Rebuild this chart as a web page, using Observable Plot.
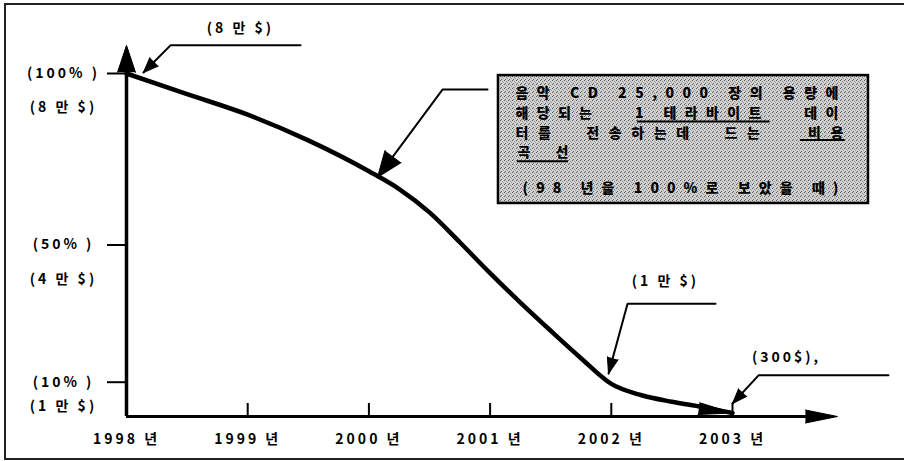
<!DOCTYPE html>
<html><head><meta charset="utf-8">
<script src="https://cdn.jsdelivr.net/npm/d3@7"></script>
<script src="https://cdn.jsdelivr.net/npm/@observablehq/plot@0.6"></script>
<style>
html,body{margin:0;padding:0;background:#fff;}
#wrap{position:relative;width:906px;height:461px;overflow:hidden;}
#frame{position:absolute;left:4px;top:3px;width:898px;height:453px;border-top:2px solid #222;border-left:2px solid #222;border-bottom:2px solid #222;pointer-events:none;}
</style></head><body>
<div id="wrap"><div id="frame"></div></div>
<script>
// ---- data ----
const years   = [1998, 1998.5, 1999, 1999.5, 2000, 2000.25, 2000.5, 2000.75, 2001, 2001.25, 2001.5, 2001.75, 2002, 2002.25, 2002.5, 2002.75, 2003];
const costPct = [100, 94, 88, 80.5, 71.5, 66.3, 59.5, 50.8, 41.8, 33.2, 25, 17, 9.5, 6.2, 4.3, 2.8, 1];
const yearTicks  = [1998, 1999, 2000, 2001, 2002, 2003];
const yearLabels = ["1998 년", "1999 년", "2000 년", "2001 년", "2002 년", "2003 년"];
const pctTicks     = [100, 50, 10];
const pctLabels    = ["(100% )", "(50% )", "(10% )"];
const dollarLabels = ["(8 만 $)", "(4 만 $)", "(1 만 $)"];
const calloutLabels = ["(8 만 $)", "(1 만 $)", "(300$),"];
const boxLines = ["음악 CD 25,000 장의 용량에", "해당되는   1 테라바이트   데이", "터를  전송하는데  드는   비용", "곡선", "(98 년을 100%로 보았을 때)"];

// ---- layout (not data) ----
const W = 906, H = 461;
const M = {left: 126, right: 174, top: 73, bottom: 45};
const kx = (W - M.left - M.right) / (yearTicks[yearTicks.length - 1] - yearTicks[0]);
const ky = (H - M.top - M.bottom) / 100;
const font = "'Noto Sans CJK KR', 'Noto Sans', sans-serif";

const curve = years.map((x, i) => ({x, y: costPct[i]}));
const subDy = [34, 35, 24];

// annotation geometry in data units
const leaders = [
  {id: 0, pts: [[1999.436, 108.2], [1998.363, 108.2], [1998.14, 100.3]], len: 15, r: 6},
  {id: 1, pts: [[2000.979, 95.3], [2000.607, 95.3], [2000.071, 69.7]], len: 26, r: 10},
  {id: 2, pts: [[2002.86, 32.9], [2002.134, 32.9], [2001.977, 12.5]], len: 16, r: 5.5},
  {id: 3, pts: [[2004.287, 12.0], [2003.215, 12.0], [2003.0, 3.8]], len: 15, r: 5.5}
];
const calloutPos = [[1998.94, 113.1], [2002.447, 39.4], [2003.446, 17.2]];
const boxPos = [[2001.209, 94.2], [2001.209, 88.3], [2001.209, 82.5], [2001.226, 77.0], [2001.267, 66.5]];
const boxLen = [323, 323, 328, 51, 316];
const underlines = [
  {x1: 2002.216, x2: 2003.31, y: 86.0},
  {x1: 2003.56, x2: 2003.93, y: 80.6},
  {x1: 2001.226, x2: 2001.647, y: 74.4}
];

function rot(a, b) { // clockwise degrees from "up" in screen space
  const dx = (b[0] - a[0]) * kx, dy = -(b[1] - a[1]) * ky;
  return Math.atan2(dx, -dy) * 180 / Math.PI;
}
function head(tip, rotate, length, r) {
  return Plot.vector([tip], {x: d => d[0], y: d => d[1], rotate, length, r, shape: "spike", anchor: "end",
    fill: "black", fillOpacity: 1, stroke: "black", strokeWidth: 1});
}

const leaderPts = leaders.flatMap(l => l.pts.map(p => ({id: l.id, x: p[0], y: p[1]})));
const textOpts = {fontFamily: font, fontWeight: "bold", fontSize: 14, fill: "black"};

const marks = [
  // box
  Plot.rect([0], {x1: 2001.069, x2: 2004.122, y1: 62.1, y2: 99.4, fill: "url(#stip)", stroke: "black", strokeWidth: 2.5}),
  Plot.text(boxLines, {x: (d, i) => boxPos[i][0], y: (d, i) => boxPos[i][1], text: d => d, textAnchor: "start",
    fontFamily: font, fontWeight: 900, fontSize: 14, fill: "black"}),
  Plot.ruleY(underlines, {x1: "x1", x2: "x2", y: "y", strokeWidth: 2, stroke: "black"}),
  // axes
  Plot.ruleX([yearTicks[0]], {y1: 0, y2: 100.5, strokeWidth: 3.5}),
  Plot.ruleY([0], {x1: yearTicks[0], x2: 2003.65, strokeWidth: 3}),
  head([yearTicks[0], 108.2], 0, 27, 9),
  head([2003.866, 0], 90, 32, 6.5),
  Plot.ruleY(pctTicks, {x1: yearTicks[0], x2: yearTicks[0], insetLeft: -19, strokeWidth: 2}),
  Plot.ruleX(yearTicks.slice(1, 5), {y1: 0, y2: 0, insetTop: -13, strokeWidth: 2}),
  Plot.text(yearTicks, {x: d => d, y: 0, dy: 23, text: (d, i) => yearLabels[i], ...textOpts}),
  Plot.text(pctTicks, {x: yearTicks[0], y: d => d, dx: -63, text: (d, i) => pctLabels[i], ...textOpts}),
  ...pctTicks.map((v, i) => Plot.text([v], {x: yearTicks[0], y: d => d, dx: -63, dy: subDy[i], text: () => dollarLabels[i], ...textOpts})),
  // curve
  Plot.line(curve, {x: "x", y: "y", curve: "monotone-x", strokeWidth: 4.5, stroke: "black"}),
  head([years[years.length - 1], costPct[costPct.length - 1]],
       rot([years[years.length - 2], costPct[costPct.length - 2]], [years[years.length - 1], costPct[costPct.length - 1]]) - 4, 34, 6),
  // leaders
  Plot.line(leaderPts, {x: "x", y: "y", z: "id", stroke: "black", strokeWidth: 2, strokeLinejoin: "miter"}),
  Plot.ruleX([2003.0], {y1: 1.2, y2: 3.8, strokeWidth: 2}),
  ...leaders.map(l => head(l.pts[2], rot(l.pts[1], l.pts[2]), l.len, l.r)),
  Plot.text(calloutLabels, {x: (d, i) => calloutPos[i][0], y: (d, i) => calloutPos[i][1], text: d => d, ...textOpts})
];

const svg = Plot.plot({
  width: W, height: H,
  marginLeft: M.left, marginRight: M.right, marginTop: M.top, marginBottom: M.bottom,
  x: {domain: [yearTicks[0], yearTicks[5]], axis: null},
  y: {domain: [0, 100], axis: null},
  style: {background: "white", color: "black", letterSpacing: "3px", fontFamily: font, overflow: "visible"},
  marks
});

const ns = "http://www.w3.org/2000/svg";
const defs = document.createElementNS(ns, "defs");
defs.innerHTML = '<pattern id="stip" width="4" height="4" patternUnits="userSpaceOnUse">' +
  '<rect width="4" height="4" fill="#d2d2d2"/>' +
  '<rect x="0" y="0" width="1" height="1" fill="#555"/>' +
  '<rect x="2" y="1" width="1" height="1" fill="#8a8a8a"/>' +
  '<rect x="1" y="3" width="1" height="1" fill="#666"/>' +
  '<rect x="3" y="2" width="1" height="1" fill="#a0a0a0"/>' +
  '</pattern>';
svg.prepend(defs);
svg.querySelectorAll("text").forEach(t => {
  const i = boxLines.indexOf(t.textContent);
  if (i >= 0) {
    t.style.letterSpacing = "0px";
    t.setAttribute("textLength", boxLen[i]);
    t.setAttribute("lengthAdjust", "spacing");
    t.setAttribute("xml:space", "preserve");
    t.style.whiteSpace = "pre";
  }
});
document.getElementById("wrap").prepend(svg);
</script>
</body></html>
